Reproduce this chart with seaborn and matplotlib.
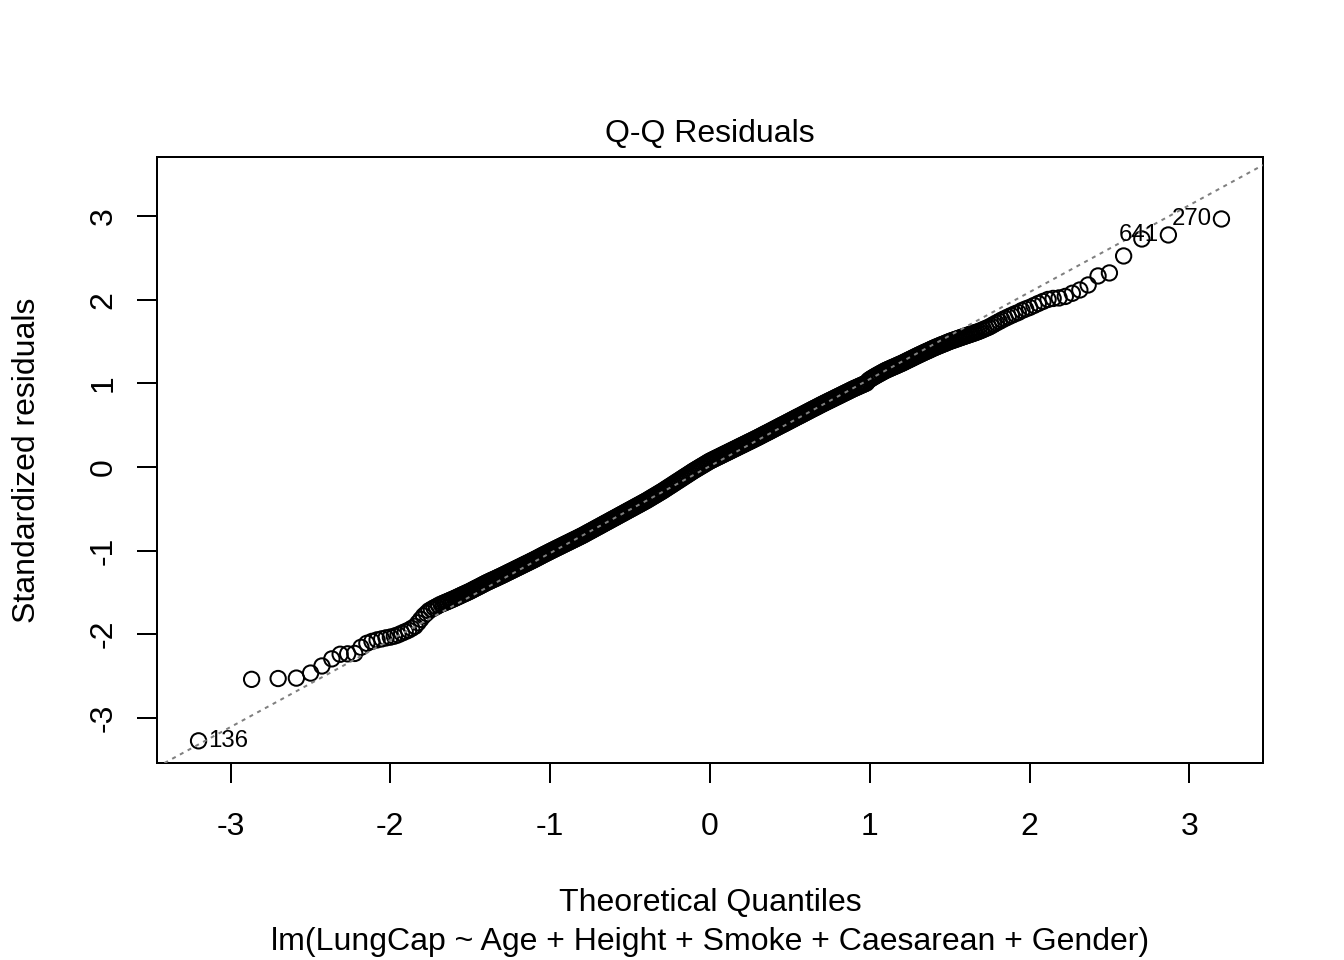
import numpy as np
import pandas as pd
import matplotlib
matplotlib.use("Agg")
import matplotlib.pyplot as plt
import seaborn as sns

# Q-Q plot of standardized residuals

# lower tail (single points, theoretical quantile / standardized residual)
low_x = [-3.200, -2.868, -2.702, -2.588, -2.499, -2.428, -2.366, -2.314, -2.267, -2.223,
         -2.184, -2.147, -2.115, -2.083, -2.054, -2.027, -2.000, -1.975, -1.952, -1.929,
         -1.907, -1.886, -1.866, -1.846, -1.827, -1.810, -1.792, -1.775, -1.759, -1.743,
         -1.727, -1.712, -1.698, -1.683]
low_y = [-3.275, -2.540, -2.530, -2.525, -2.465, -2.380, -2.295, -2.240, -2.235, -2.230,
         -2.157, -2.109, -2.086, -2.068, -2.056, -2.044, -2.035, -2.023, -2.008, -1.988,
         -1.970, -1.952, -1.930, -1.906, -1.864, -1.823, -1.781, -1.751, -1.721, -1.703,
         -1.685, -1.671, -1.655, -1.641]

# dense middle of the band
mid_x = [-1.67, -1.66, -1.65, -1.64, -1.63, -1.62, -1.61, -1.60,
         -1.59, -1.58, -1.57, -1.56, -1.55, -1.54, -1.53, -1.52, -1.51, -1.50,
         -1.49, -1.48, -1.47, -1.46, -1.45, -1.44, -1.43, -1.42, -1.41, -1.40,
         -1.39, -1.38, -1.37, -1.36, -1.35, -1.34, -1.33, -1.32, -1.31, -1.30,
         -1.29, -1.28, -1.27, -1.26, -1.25, -1.24, -1.23, -1.22, -1.21, -1.20,
         -1.19, -1.18, -1.17, -1.16, -1.15, -1.14, -1.13, -1.12, -1.11, -1.10,
         -1.09, -1.08, -1.07, -1.06, -1.05, -1.04, -1.03, -1.02, -1.01, -1.00,
         -0.99, -0.98, -0.97, -0.96, -0.95, -0.94, -0.93, -0.92, -0.91, -0.90,
         -0.89, -0.88, -0.87, -0.86, -0.85, -0.84, -0.83, -0.82, -0.81, -0.80,
         -0.79, -0.78, -0.77, -0.76, -0.75, -0.74, -0.73, -0.72, -0.71, -0.70,
         -0.69, -0.68, -0.67, -0.66, -0.65, -0.64, -0.63, -0.62, -0.61, -0.60,
         -0.59, -0.58, -0.57, -0.56, -0.55, -0.54, -0.53, -0.52, -0.51, -0.50,
         -0.49, -0.48, -0.47, -0.46, -0.45, -0.44, -0.43, -0.42, -0.41, -0.40,
         -0.39, -0.38, -0.37, -0.36, -0.35, -0.34, -0.33, -0.32, -0.31, -0.30,
         -0.29, -0.28, -0.27, -0.26, -0.25, -0.24, -0.23, -0.22, -0.21, -0.20,
         -0.19, -0.18, -0.17, -0.16, -0.15, -0.14, -0.13, -0.12, -0.11, -0.10,
         -0.09, -0.08, -0.07, -0.06, -0.05, -0.04, -0.03, -0.02, -0.01, 0.00,
         0.01, 0.02, 0.03, 0.04, 0.05, 0.06, 0.07, 0.08, 0.09, 0.10,
         0.11, 0.12, 0.13, 0.14, 0.15, 0.16, 0.17, 0.18, 0.19, 0.20,
         0.21, 0.22, 0.23, 0.24, 0.25, 0.26, 0.27, 0.28, 0.29, 0.30,
         0.31, 0.32, 0.33, 0.34, 0.35, 0.36, 0.37, 0.38, 0.39, 0.40,
         0.41, 0.42, 0.43, 0.44, 0.45, 0.46, 0.47, 0.48, 0.49, 0.50,
         0.51, 0.52, 0.53, 0.54, 0.55, 0.56, 0.57, 0.58, 0.59, 0.60,
         0.61, 0.62, 0.63, 0.64, 0.65, 0.66, 0.67, 0.68, 0.69, 0.70,
         0.71, 0.72, 0.73, 0.74, 0.75, 0.76, 0.77, 0.78, 0.79, 0.80,
         0.81, 0.82, 0.83, 0.84, 0.85, 0.86, 0.87, 0.88, 0.89, 0.90,
         0.91, 0.92, 0.93, 0.94, 0.95, 0.96, 0.97, 0.98, 0.99, 1.00,
         1.01, 1.02, 1.03, 1.04, 1.05, 1.06, 1.07, 1.08, 1.09, 1.10,
         1.11, 1.12, 1.13, 1.14, 1.15, 1.16, 1.17, 1.18, 1.19, 1.20,
         1.21, 1.22, 1.23, 1.24, 1.25, 1.26, 1.27, 1.28, 1.29, 1.30,
         1.31, 1.32, 1.33, 1.34, 1.35, 1.36, 1.37, 1.38, 1.39, 1.40,
         1.41, 1.42, 1.43, 1.44, 1.45, 1.46, 1.47, 1.48, 1.49, 1.50,
         1.51, 1.52, 1.53, 1.54, 1.55, 1.56, 1.57, 1.58, 1.59, 1.60,
         1.61, 1.62, 1.63, 1.64, 1.65, 1.66, 1.67]
mid_y = [-1.632, -1.623, -1.615, -1.607, -1.599, -1.590, -1.582, -1.574,
         -1.565, -1.556, -1.547, -1.538, -1.529, -1.520, -1.512, -1.503, -1.494, -1.485,
         -1.475, -1.465, -1.455, -1.445, -1.436, -1.426, -1.416, -1.406, -1.396, -1.386,
         -1.377, -1.368, -1.359, -1.350, -1.342, -1.333, -1.324, -1.315, -1.306, -1.297,
         -1.288, -1.278, -1.269, -1.259, -1.250, -1.241, -1.231, -1.222, -1.212, -1.203,
         -1.194, -1.184, -1.175, -1.165, -1.156, -1.147, -1.137, -1.128, -1.118, -1.109,
         -1.099, -1.089, -1.079, -1.069, -1.059, -1.049, -1.039, -1.030, -1.020, -1.010,
         -1.001, -0.991, -0.982, -0.972, -0.963, -0.954, -0.944, -0.935, -0.925, -0.916,
         -0.907, -0.897, -0.888, -0.878, -0.869, -0.860, -0.850, -0.841, -0.831, -0.822,
         -0.812, -0.801, -0.791, -0.780, -0.770, -0.760, -0.749, -0.739, -0.728, -0.718,
         -0.708, -0.697, -0.687, -0.676, -0.666, -0.656, -0.645, -0.635, -0.624, -0.614,
         -0.604, -0.593, -0.583, -0.572, -0.562, -0.552, -0.541, -0.531, -0.520, -0.510,
         -0.500, -0.489, -0.479, -0.468, -0.458, -0.448, -0.437, -0.427, -0.416, -0.406,
         -0.395, -0.383, -0.372, -0.360, -0.349, -0.338, -0.326, -0.315, -0.303, -0.292,
         -0.280, -0.267, -0.255, -0.242, -0.230, -0.218, -0.205, -0.193, -0.180, -0.168,
         -0.156, -0.143, -0.131, -0.118, -0.106, -0.094, -0.081, -0.069, -0.056, -0.044,
         -0.033, -0.021, -0.010, 0.002, 0.013, 0.024, 0.036, 0.047, 0.059, 0.070,
         0.079, 0.089, 0.098, 0.108, 0.117, 0.126, 0.136, 0.145, 0.155, 0.164,
         0.173, 0.183, 0.192, 0.202, 0.211, 0.220, 0.230, 0.239, 0.249, 0.258,
         0.267, 0.277, 0.286, 0.296, 0.305, 0.314, 0.324, 0.333, 0.343, 0.352,
         0.362, 0.372, 0.382, 0.392, 0.402, 0.411, 0.421, 0.431, 0.441, 0.451,
         0.461, 0.471, 0.481, 0.491, 0.501, 0.510, 0.520, 0.530, 0.540, 0.550,
         0.560, 0.570, 0.580, 0.590, 0.600, 0.609, 0.619, 0.629, 0.639, 0.649,
         0.659, 0.669, 0.679, 0.689, 0.699, 0.708, 0.718, 0.728, 0.738, 0.748,
         0.757, 0.767, 0.776, 0.786, 0.795, 0.804, 0.814, 0.823, 0.833, 0.842,
         0.851, 0.861, 0.870, 0.880, 0.889, 0.898, 0.908, 0.917, 0.927, 0.936,
         0.944, 0.953, 0.961, 0.970, 0.978, 0.987, 0.995, 1.004, 1.030, 1.045,
         1.057, 1.069, 1.080, 1.091, 1.102, 1.112, 1.123, 1.133, 1.144, 1.154,
         1.162, 1.171, 1.179, 1.188, 1.196, 1.204, 1.213, 1.221, 1.230, 1.238,
         1.247, 1.257, 1.266, 1.276, 1.285, 1.294, 1.304, 1.313, 1.323, 1.332,
         1.341, 1.350, 1.359, 1.368, 1.377, 1.385, 1.394, 1.403, 1.412, 1.421,
         1.429, 1.437, 1.445, 1.453, 1.461, 1.468, 1.476, 1.484, 1.492, 1.500,
         1.507, 1.513, 1.520, 1.527, 1.533, 1.540, 1.547, 1.553, 1.560, 1.566,
         1.573, 1.579, 1.586, 1.592, 1.599, 1.605, 1.612]

# upper tail
high_x = [1.683, 1.698, 1.712, 1.727, 1.743, 1.759, 1.775, 1.792, 1.810, 1.827,
          1.846, 1.866, 1.886, 1.907, 1.929, 1.952, 1.975, 2.000, 2.027, 2.054,
          2.083, 2.115, 2.147, 2.184, 2.223, 2.267, 2.314, 2.366, 2.428, 2.499,
          2.588, 2.702, 2.868, 3.200]
high_y = [1.620, 1.632, 1.644, 1.656, 1.669, 1.685, 1.703, 1.721, 1.739, 1.757,
          1.775, 1.793, 1.811, 1.829, 1.846, 1.870, 1.888, 1.906, 1.930, 1.954,
          1.978, 2.002, 2.014, 2.020, 2.038, 2.076, 2.115, 2.175, 2.283, 2.319,
          2.522, 2.725, 2.773, 2.964]

# reference line (qqline through the quartiles)
line_x = [-0.674, 0.674]
line_y = [-0.691, 0.711]

# labelled observations
label_names = ["136", "641", "270"]
label_x = [-3.200, 2.868, 3.200]
label_y = [-3.275, 2.773, 2.964]

x_ticks = [-3, -2, -1, 0, 1, 2, 3]
y_ticks = [-3, -2, -1, 0, 1, 2, 3]

sns.set_style("white")
plt.rcParams["font.family"] = ["Liberation Sans", "DejaVu Sans"]
plt.rcParams["axes.unicode_minus"] = False
plt.rcParams["text.color"] = "black"
plt.rcParams["axes.labelcolor"] = "black"
plt.rcParams["axes.titlecolor"] = "black"

df = pd.DataFrame({"theoretical": low_x + mid_x + high_x,
                   "residual": low_y + mid_y + high_y})

fig = plt.figure(figsize=(7, 5), dpi=192)
ax = fig.add_axes([157 / 1344, 1 - 763 / 960, 1106 / 1344, 606 / 960])

sns.scatterplot(data=df, x="theoretical", y="residual", ax=ax, s=33, marker="o",
                facecolor="none", edgecolor="black", linewidth=0.75, zorder=2)
ax.axline((line_x[0], line_y[0]), (line_x[1], line_y[1]), color="#7f7f7f",
          lw=0.75, linestyle=(0, (2, 2.4)), zorder=3)

ax.set_xlim(-3.46, 3.46)
ax.set_ylim(-3.54, 3.705)
ax.set_xticks(x_ticks)
ax.set_yticks(y_ticks)
ax.tick_params(direction="out", length=7.5, width=0.75, labelsize=12,
               color="black", labelcolor="black", left=True, bottom=True)
ax.tick_params(axis="x", pad=11)
ax.tick_params(axis="y", pad=7)
for lab in ax.get_yticklabels():
    lab.set_rotation(90)
    lab.set_va("center")
for sp in ax.spines.values():
    sp.set_visible(True)
    sp.set_color("black")
    sp.set_linewidth(0.75)

for name, px, py in zip(label_names, label_x, label_y):
    off = 3.6 if px < 0 else -3.6
    ax.annotate(name, xy=(px, py), xytext=(off, 0), textcoords="offset points",
                ha="left" if px < 0 else "right", va="center", fontsize=9,
                color="black")

ax.set_title("Q-Q Residuals", fontsize=12, pad=5.8, color="black")
ax.set_xlabel("Theoretical Quantiles", fontsize=12)
ax.set_ylabel("Standardized residuals", fontsize=12)
ax.xaxis.set_label_coords(0.5, -0.207)
ax.yaxis.set_label_coords(-0.1043, 0.5)
ax.text(0.5, -0.3086, "lm(LungCap ~ Age + Height + Smoke + Caesarean + Gender)",
        transform=ax.transAxes, ha="center", va="baseline", fontsize=12,
        color="black")

fig.savefig("out.png", dpi=192)
